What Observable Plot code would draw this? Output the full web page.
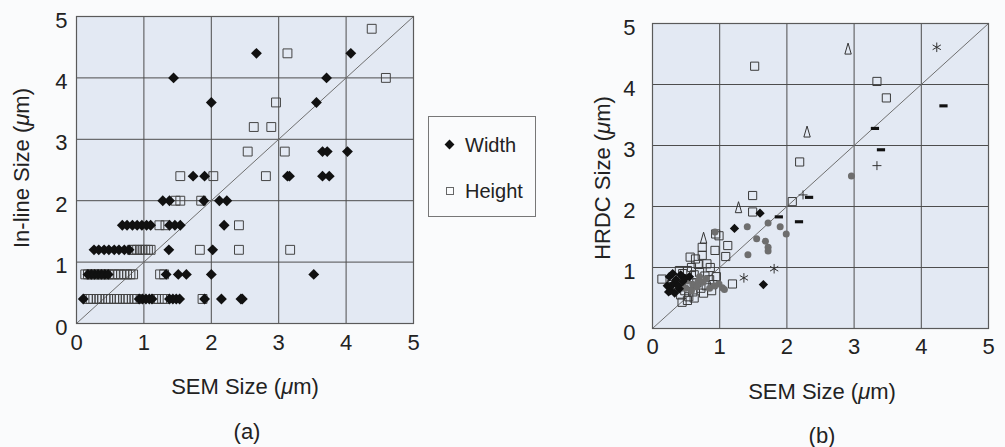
<!DOCTYPE html>
<html><head><meta charset="utf-8">
<script src="https://cdn.jsdelivr.net/npm/d3@7"></script>
<script src="https://cdn.jsdelivr.net/npm/@observablehq/plot@0.6"></script>
<style>
html,body{margin:0;padding:0;background:#fafbfc;}
#wrap{position:relative;width:1005px;height:447px;overflow:hidden;font-family:"Liberation Sans",Arial,sans-serif;color:#222;}
.t{position:absolute;font-size:22px;white-space:nowrap;transform:translate(-50%,-50%);line-height:1;}
.ty{transform:translate(-50%,-50%) rotate(-90deg);}
.plotbox{position:absolute;top:0;}
.plotbox svg{max-width:none;overflow:visible;}
#legend{position:absolute;left:428px;top:116px;width:108px;height:101px;border:1px solid #777;box-sizing:border-box;font-size:20px;}
#legend .row{position:absolute;left:0;height:24px;line-height:24px;}
#legend .lab{position:absolute;left:36px;top:0;}
#legend .dia{position:absolute;left:17px;top:8px;width:7px;height:7px;background:#111;transform:rotate(45deg);}
#legend .sq{position:absolute;left:17px;top:8px;width:6px;height:6px;border:1px solid #666;}
</style>
</head><body>
<div id="wrap">
  <div id="pa" class="plotbox" style="left:0px"></div>
  <div id="pb" class="plotbox" style="left:560px"></div>
  <div class="t" style="left:245px;top:387px">SEM Size (<i>μ</i>m)</div>
  <div class="t" style="left:247px;top:432px">(a)</div>
  <div class="t ty" style="left:22px;top:168px">In-line Size (<i>μ</i>m)</div>
  <div class="t" style="left:822px;top:392px">SEM Size (<i>μ</i>m)</div>
  <div class="t" style="left:822px;top:436px">(b)</div>
  <div class="t ty" style="left:603px;top:178px">HRDC Size (<i>μ</i>m)</div>
  <div id="legend">
    <div class="row" style="top:16px"><div class="dia"></div><span class="lab">Width</span></div>
    <div class="row" style="top:62px"><div class="sq"></div><span class="lab">Height</span></div>
  </div>
</div>
<script>
// ---------- data ----------
const axisTicks = [0, 1, 2, 3, 4, 5];
const gridTicks = [1, 2, 3, 4];
const diagonal = [0, 5];

// Panel (a): [SEM size, In-line size]
const widthPoints = [
  [2.67,4.4],[4.07,4.4],
  [1.44,4.0],[3.71,4.0],
  [2.00,3.6],[3.56,3.6],
  [3.65,2.8],[3.72,2.8],[4.02,2.8],
  [1.73,2.4],[1.90,2.4],[3.13,2.4],[3.16,2.4],[3.65,2.4],[3.75,2.4],
  [1.28,2.0],[1.38,2.0],[1.89,2.0],[2.12,2.0],[2.23,2.0],
  [0.68,1.6],[0.75,1.6],[0.83,1.6],[0.90,1.6],[0.97,1.6],[1.04,1.6],[1.10,1.6],[1.38,1.6],[1.46,1.6],[1.54,1.6],[2.19,1.6],
  [0.26,1.2],[0.33,1.2],[0.41,1.2],[0.48,1.2],[0.56,1.2],[0.63,1.2],[0.71,1.2],[0.78,1.2],[1.37,1.2],[2.02,1.2],
  [0.17,0.8],[0.22,0.8],[0.27,0.8],[0.32,0.8],[0.37,0.8],[0.42,0.8],[0.47,0.8],[1.33,0.8],[1.51,0.8],[1.63,0.8],[2.00,0.8],[3.52,0.8],
  [0.10,0.4],[0.93,0.4],[0.98,0.4],[1.03,0.4],[1.08,0.4],[1.12,0.4],[1.38,0.4],[1.43,0.4],[1.48,0.4],[1.53,0.4],[1.90,0.4],[2.15,0.4],[2.44,0.4],[2.46,0.4]
];
const heightPoints = [
  [4.38,4.8],
  [3.13,4.4],
  [4.59,4.0],
  [2.96,3.6],
  [2.63,3.2],[2.89,3.2],
  [2.54,2.8],[3.09,2.8],
  [1.54,2.4],[2.03,2.4],[2.81,2.4],
  [1.47,2.0],[1.54,2.0],[1.85,2.0],
  [1.23,1.6],[1.32,1.6],[2.41,1.6],
  [0.82,1.2],[0.86,1.2],[0.90,1.2],[0.94,1.2],[0.98,1.2],[1.02,1.2],[1.06,1.2],[1.10,1.2],[1.83,1.2],[2.41,1.2],[3.17,1.2],
  [0.13,0.8],[0.17,0.8],[0.21,0.8],[0.26,0.8],[0.30,0.8],[0.35,0.8],[0.39,0.8],[0.44,0.8],[0.48,0.8],[0.53,0.8],[0.57,0.8],[0.62,0.8],[0.66,0.8],[0.71,0.8],[0.75,0.8],[0.80,0.8],[0.84,0.8],[1.24,0.8],[1.30,0.8],
  [0.17,0.4],[0.21,0.4],[0.25,0.4],[0.30,0.4],[0.34,0.4],[0.38,0.4],[0.43,0.4],[0.47,0.4],[0.51,0.4],[0.56,0.4],[0.60,0.4],[0.64,0.4],[0.69,0.4],[0.73,0.4],[0.77,0.4],[0.82,0.4],[0.86,0.4],[0.90,0.4],[1.18,0.4],[1.22,0.4],[1.27,0.4],[1.31,0.4],[1.87,0.4]
];

// Panel (b): [SEM size, HRDC size]
const squaresB = [
  [1.52,4.30],[3.34,4.05],[3.48,3.78],[2.19,2.73],[1.49,2.18],[2.08,2.08],[1.49,1.91],[1.19,0.73],
  [0.94,1.55],[0.99,1.52],[1.12,1.36],[0.93,1.28],[1.09,1.18],[0.74,1.33],[0.74,1.20],[0.64,1.14],[0.81,1.06],[0.56,1.17],
  [0.14,0.81],[0.30,0.82],[0.38,0.76],[0.45,0.90],[0.52,0.95],[0.58,1.00],[0.62,0.88],[0.70,0.92],[0.78,0.86],[0.85,0.80],
  [0.90,0.72],[0.95,0.85],[0.66,0.75],[0.55,0.70],[0.48,0.62],[0.42,0.55],[0.54,0.52],[0.44,0.43],[0.60,0.60],[0.72,0.66],
  [0.80,0.70],[0.35,0.68],[0.28,0.72],[0.68,1.05],[0.86,1.00],[0.40,0.95],[0.52,0.46],[0.62,0.50],[0.76,0.58],[0.88,0.62]
];
const circlesB = [
  [2.96,2.50],[1.72,1.73],[1.90,1.67],[1.99,1.55],[1.41,1.67],[1.55,1.47],[1.68,1.43],[1.72,1.33],[1.72,1.27],[1.42,1.21],
  [1.04,0.67],[0.99,0.73],[0.93,1.58],[0.60,0.72],[0.66,0.68],[0.52,0.78],[0.75,0.76],[0.45,0.70],[0.85,0.66],[0.70,0.85],[1.07,0.64],
  [0.58,0.62],[0.68,0.78],[0.80,0.82],[0.50,0.66],[0.92,0.70]
];
const diamondsB = [
  [1.60,1.89],[1.22,1.64],[1.65,0.72],
  [0.27,0.62],[0.30,0.72],[0.35,0.80],[0.40,0.65],[0.25,0.85],[0.48,0.82],[0.33,0.58],[0.42,0.88],[0.55,0.85],[0.22,0.70],
  [0.30,0.90],[0.38,0.70],[0.45,0.77],[0.24,0.60]
];
const trianglesB = [[2.91,4.58],[2.30,3.22],[1.28,1.98],[0.76,1.48]];
const dashesB = [[4.33,3.65],[3.31,3.28],[3.40,2.93],[2.33,2.15],[1.88,1.83],[2.18,1.75]];
const plusesB = [[3.34,2.67],[2.24,2.19]];
const asterisksB = [[4.23,4.61],[1.81,0.98],[1.36,0.83]];

// ---------- custom symbols ----------
const dashSymbol = {draw(ctx, size){ const s = Math.sqrt(size); const w = s*0.58, h = s*0.22; ctx.rect(-w, -h, 2*w, 2*h); }};
const tallTriangle = {draw(ctx, size){ const s = Math.sqrt(size); ctx.moveTo(0, -s*0.85); ctx.lineTo(s*0.45, s*0.7); ctx.lineTo(-s*0.45, s*0.7); ctx.closePath(); }};

const fontFam = '"Liberation Sans", Arial, sans-serif';
const plotBg = "#e3e9f3";
const gridColor = "#4d4d4d";
const fmt = d => String(d);

function baseMarks(){
  return [
    Plot.frame({fill: plotBg, stroke: "none"}),
    Plot.gridX(gridTicks, {stroke: gridColor, strokeOpacity: 1, strokeWidth: 1}),
    Plot.gridY(gridTicks, {stroke: gridColor, strokeOpacity: 1, strokeWidth: 1}),
    Plot.line(diagonal, {x: d => d, y: d => d, stroke: "#6f6f6f", strokeWidth: 1})
  ];
}
function axisMarks(padX, padY){
  return [
    Plot.frame({stroke: "#5a5a5a", strokeWidth: 1.2}),
    Plot.axisX(axisTicks, {tickSize: 0, tickPadding: padX, label: null, tickFormat: fmt, fontSize: 22, fill: "#222"}),
    Plot.axisY(axisTicks, {tickSize: 0, tickPadding: padY, label: null, tickFormat: fmt, fontSize: 22, dy: 4, fill: "#222"})
  ];
}

const plotA = Plot.plot({
  width: 420, height: 360,
  marginLeft: 76, marginRight: 7, marginTop: 16, marginBottom: 37,
  x: {domain: [0, 5], label: null},
  y: {domain: [0, 5], label: null},
  style: {background: "transparent", fontFamily: fontFam, fontSize: "22px", color: "#222", overflow: "visible"},
  marks: [
    ...baseMarks(),
    Plot.dot(heightPoints, {x: d => d[0], y: d => d[1], symbol: "square", r: 5, stroke: "#444", fill: "none", strokeWidth: 1}),
    Plot.dot(widthPoints, {x: d => d[0], y: d => d[1], symbol: "diamond2", r: 4.9, fill: "#111", stroke: "none"}),
    ...axisMarks(11, 9)
  ]
});
document.getElementById("pa").appendChild(plotA);

const plotB = Plot.plot({
  width: 440, height: 360,
  marginLeft: 92, marginRight: 12, marginTop: 23, marginBottom: 32,
  x: {domain: [0, 5], label: null},
  y: {domain: [0, 5], label: null},
  style: {background: "transparent", fontFamily: fontFam, fontSize: "22px", color: "#222", overflow: "visible"},
  marks: [
    ...baseMarks(),
    Plot.dot(squaresB, {x: d => d[0], y: d => d[1], symbol: "square", r: 4.6, stroke: "#3a3a3a", fill: "none", strokeWidth: 1}),
    Plot.dot(circlesB, {x: d => d[0], y: d => d[1], symbol: "circle", r: 3.5, fill: "#6e6e6e", stroke: "none"}),
    Plot.dot(diamondsB, {x: d => d[0], y: d => d[1], symbol: "diamond2", r: 4.2, fill: "#111", stroke: "none"}),
    Plot.dot(trianglesB, {x: d => d[0], y: d => d[1], symbol: tallTriangle, r: 4, fill: "none", stroke: "#333", strokeWidth: 1}),
    Plot.dot(dashesB, {x: d => d[0], y: d => d[1], symbol: dashSymbol, r: 4, fill: "#111", stroke: "none"}),
    Plot.dot(plusesB, {x: d => d[0], y: d => d[1], symbol: "plus", r: 3, fill: "none", stroke: "#333", strokeWidth: 1}),
    Plot.dot(asterisksB, {x: d => d[0], y: d => d[1], symbol: "asterisk", r: 4.5, fill: "none", stroke: "#333", strokeWidth: 1}),
    ...axisMarks(10, 17)
  ]
});
document.getElementById("pb").appendChild(plotB);
</script>
</body></html>
